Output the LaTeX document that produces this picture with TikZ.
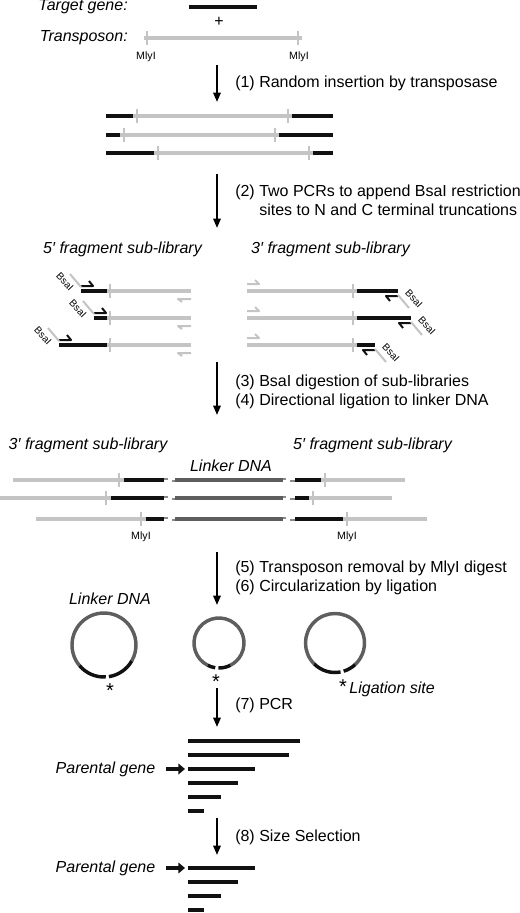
\documentclass[tikz,border=0pt]{standalone}
\usepackage{fontspec}
\setmainfont{Liberation Sans}
\usepackage{tikz}
\usetikzlibrary{arrows.meta,positioning}

\definecolor{genecol}{HTML}{111111}
\definecolor{tncol}{HTML}{C4C4C4}
\definecolor{linkcol}{HTML}{5E5E5E}
\definecolor{stubcol}{HTML}{8A8A8A}

\begin{document}
\begin{tikzpicture}
	[x=0.75pt,y=-0.75pt,
	 gene/.style={draw=genecol,line width=3pt},
	 tn/.style={draw=tncol,line width=3pt},
	 linker/.style={draw=linkcol,line width=3pt},
	 site/.style={draw=tncol,line width=1.5pt},
	 stub/.style={draw=stubcol,line width=1.1pt},
	 primer/.style={line width=1.5pt,line join=round},
	 steparrow/.style={draw=black,line width=1.5pt,-{Triangle[length=7pt,width=5.5pt]}},
	 steplabel/.style={anchor=west,font=\fontsize{12}{14.25}\selectfont,align=left,inner sep=0pt},
	 tag/.style={font=\itshape\fontsize{12}{14}\selectfont,inner sep=0pt},
	 mly/.style={font=\fontsize{8}{9}\selectfont,inner sep=0pt},
	 bsa/.style={font=\fontsize{7.5}{8}\selectfont,inner sep=0pt,rotate=-47},
	 ring/.style={draw=linkcol,line width=2.6pt},
	 band/.style={draw=genecol,line width=3.4pt},
	 pointer/.style={draw=genecol,line width=3pt,-{Triangle[length=5pt,width=8pt]}},
	 starmark/.style={font=\fontsize{15}{16}\selectfont,inner sep=0pt}]
\useasboundingbox (0,0) rectangle (520,913);

% step arrows down the middle
\foreach \n/\a/\b in {1/65/102,2/174/228,3/362/415,4/552/605,5/688/727,6/818/855}{
	\coordinate (top\n) at (217,\a);
	\coordinate (bot\n) at (217,\b);
	\draw[steparrow] (top\n) -- (bot\n);
}
\node[steplabel] (lab1) at (235,83) {(1) Random insertion by transposase};
\node[steplabel] (lab2) at (235,201.5) {(2) Two PCRs to append BsaI restriction\\\phantom{(2) }sites to N and C terminal truncations};
\node[steplabel] (lab3) at (235,391.5) {(3) BsaI digestion of sub-libraries\\(4) Directional ligation to linker DNA};
\node[steplabel] (lab5) at (235,577.5) {(5) Transposon removal by MlyI digest\\(6) Circularization by ligation};
\node[steplabel] (lab7) at (235,705) {(7) PCR};
\node[steplabel] (lab8) at (235,837) {(8) Size Selection};

% gene and transposon
\node[tag,anchor=east] (tgene) at (128,7) {Target gene:};
\draw[gene] (189,7) -- (257,7);
\node[font=\fontsize{12}{14}\selectfont,inner sep=0pt] (plus) at (219,22) {+};
\node[tag,anchor=east] (tposon) at (128,38) {Transposon:};
\draw[tn] (144,38) -- (302,38);
\foreach \x in {147,298}
\draw[site] (\x,31) -- ++(0,14);
\node[mly] (mly1) at (146,57) {MlyI};
\node[mly] (mly2) at (299,57) {MlyI};

% insertions
\foreach \y/\a/\b in {116/133/292,135/120/279,153/154/313}{
	\draw[tn] (\a,\y) -- (\b,\y);
	\draw[gene] (106,\y) -- (\a,\y) (\b,\y) -- (333,\y);
	\draw[site] ({\a+4},{\y-7}) -- ++(0,14);
	\draw[site] ({\b-4},{\y-7}) -- ++(0,14);
}

% sub-libraries after PCR
\node[tag] (five1) at (122.5,249) {5′ fragment sub-library};
\node[tag] (three1) at (330.5,249) {3′ fragment sub-library};
\foreach \y/\s in {291/81,318/94,345/59}{
	\draw[gene] (\s,\y) -- (107,\y);
	\draw[tn] (107,\y) -- (191,\y);
	\draw[site] (110,{\y-7}) -- ++(0,14);
	\draw[primer,genecol] (\s,{\y-5}) -- ++(12,0) -- ++(-4,-5);
	\draw[primer,tncol] (\s,{\y-4}) -- ++(-11,-13);
	\node[bsa] at ({\s-16},{\y-9}) {BsaI};
	\draw[primer,tncol] (191,{\y+8}) -- ++(-13,0) -- ++(4,3);
}
\foreach \y/\e in {291/398,318/411,345/375}{
	\draw[tn] (247,\y) -- (357,\y);
	\draw[site] (353,{\y-7}) -- ++(0,14);
	\draw[gene] (357,\y) -- (\e,\y);
	\draw[primer,tncol] (247,{\y-7}) -- ++(12,0) -- ++(-4,-4);
	\draw[primer,genecol] (\e,{\y+5}) -- ++(-12,0) -- ++(4,5);
	\draw[primer,tncol] (\e,{\y+4}) -- ++(11,13);
	\node[bsa] at ({\e+16},{\y+8}) {BsaI};
}

% ligation to linker
\node[tag] (three2) at (88,445) {3′ fragment sub-library};
\node[tag] (five2) at (372.5,445) {5′ fragment sub-library};
\node[tag] (link1) at (231,466) {Linker DNA};
\foreach \y/\l/\m/\r/\q in {480/13/124/321/405,498/0/111/309/392,519/36/146/343/427}{
	\draw[tn] (\l,\y) -- (\m,\y);
	\draw[site] ({\m-5},{\y-7}) -- ++(0,14);
	\draw[gene] (\m,\y) -- (164,\y);
	\draw[stub] (164,{\y-1}) -- (168,{\y-1});
	\draw[stub] (172,{\y+1}) -- (175,{\y+1});
	\draw[linker] (175,\y) -- (283,\y);
	\draw[stub] (283,{\y-1}) -- (286,{\y-1});
	\draw[stub] (290,{\y+1}) -- (295,{\y+1});
	\draw[gene] (295,\y) -- (\r,\y);
	\draw[tn] (\r,\y) -- (\q,\y);
	\draw[site] ({\r+4},{\y-7}) -- ++(0,14);
}
\node[mly] (mly3) at (141,537) {MlyI};
\node[mly] (mly4) at (347,537) {MlyI};

% circles
\node[tag] (link2) at (110,599) {Linker DNA};
\foreach \cx/\cy/\r/\p/\g/\q in {104/645/32/30/84/140,219/643/25/63/95/117,335/643/29.5/47/76/135}{
	\pgfmathsetmacro\h{1.6/\r*57.3}
	\draw[ring] (\cx,\cy) ++(\q:\r) arc[start angle=\q,end angle={\p+360},radius=\r];
	\draw[ring,draw=genecol] (\cx,\cy) ++(\p:\r) arc[start angle=\p,end angle={\g-\h},radius=\r];
	\draw[ring,draw=genecol] (\cx,\cy) ++({\g+\h}:\r) arc[start angle={\g+\h},end angle=\q,radius=\r];
}
\node[starmark] (st1) at (110,691) {*};
\node[starmark] (st2) at (216,682) {*};
\node[starmark] (st3) at (343,687) {*};
\node[tag,base right=1.5pt of st3] (lig) {Ligation site};

% PCR products
\foreach \y/\e in {741/300,755/289,769/255,783/238,797/221,811/204}
\draw[band] (188,\y) -- (\e,\y);
\node[tag] (pg1) at (105.5,769) {Parental gene};
\coordinate (pa1) at (166,769);
\coordinate (pb1) at (185,769);
\draw[pointer] (pa1) -- (pb1);

% after size selection
\foreach \y/\e in {868/255,882/238,896/221,910/204}
\draw[band] (188,\y) -- (\e,\y);
\node[tag] (pg2) at (105.5,868) {Parental gene};
\coordinate (pa2) at (166,868);
\coordinate (pb2) at (185,868);
\draw[pointer] (pa2) -- (pb2);
\end{tikzpicture}
\end{document}
